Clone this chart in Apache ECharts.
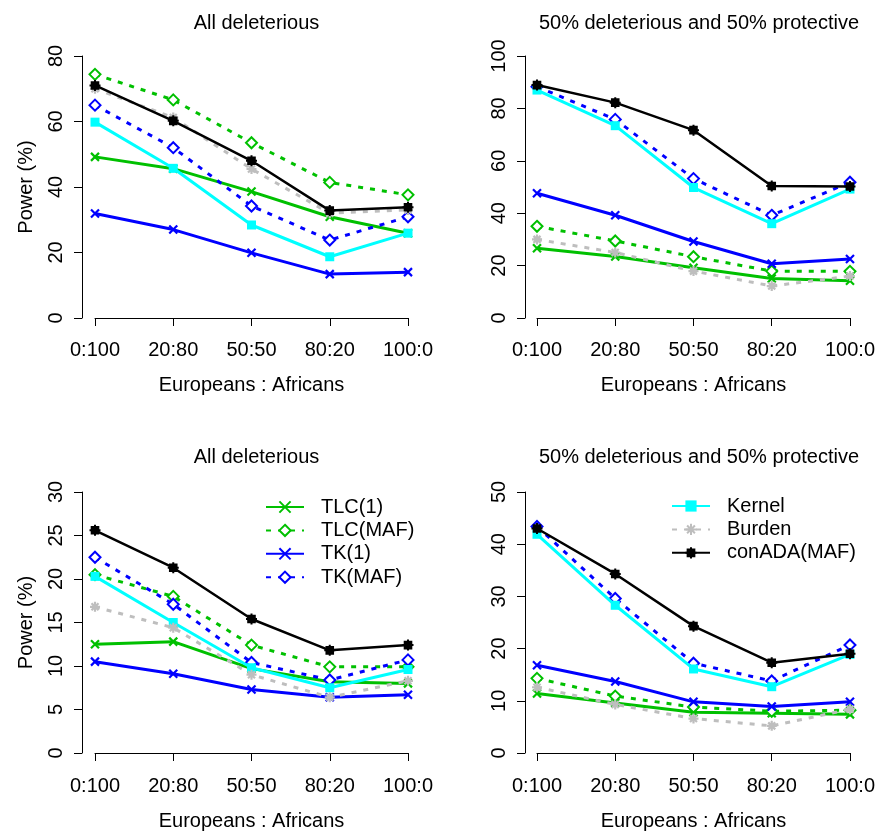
<!DOCTYPE html>
<html>
<head>
<meta charset="utf-8">
<script src="https://cdn.jsdelivr.net/npm/echarts@6/dist/echarts.min.js"></script>
<style>
html,body{margin:0;padding:0;background:#fff;}
#chart{width:878px;height:832px;}
</style>
</head>
<body>
<div id="chart"></div>
<script>
// ---------- data ----------
const categories = ['0:100', '20:80', '50:50', '80:20', '100:0'];
const seriesNames = ['TLC(1)', 'TLC(MAF)', 'TK(1)', 'TK(MAF)', 'Kernel', 'Burden', 'conADA(MAF)'];
const panelTitles = ['All deleterious', '50% deleterious and 50% protective', 'All deleterious', '50% deleterious and 50% protective'];
const yMax = [80, 100, 30, 50];
const yStep = [20, 20, 5, 10];

// Panel A: top-left (All deleterious)
const a_TLC1   = [49.2, 45.6, 38.6, 30.9, 25.9];
const a_TLCMAF = [74.4, 66.6, 53.5, 41.4, 37.6];
const a_TK1    = [31.9, 27.0, 19.9, 13.4, 14.0];
const a_TKMAF  = [65.0, 52.0, 34.2, 23.8, 30.9];
const a_Kernel = [59.8, 45.7, 28.4, 18.7, 25.9];
const a_Burden = [70.0, 61.2, 45.5, 32.0, 33.0];
const a_conADA = [71.0, 60.2, 48.0, 32.8, 33.8];

// Panel B: top-right (50% deleterious and 50% protective)
const b_TLC1   = [26.6, 23.5, 19.2, 15.1, 14.2];
const b_TLCMAF = [35.0, 29.4, 23.4, 17.9, 17.8];
const b_TK1    = [47.6, 39.2, 29.2, 20.7, 22.5];
const b_TKMAF  = [88.3, 75.8, 53.2, 39.2, 51.8];
const b_Kernel = [87.0, 73.4, 49.8, 36.0, 49.2];
const b_Burden = [30.0, 25.0, 17.9, 12.2, 16.0];
const b_conADA = [88.9, 82.2, 71.7, 50.4, 50.2];

// Panel C: bottom-left (All deleterious)
const c_TLC1   = [12.5, 12.8, 9.7, 8.2, 8.0];
const c_TLCMAF = [20.5, 18.0, 12.4, 9.9, 9.9];
const c_TK1    = [10.5, 9.1, 7.3, 6.4, 6.7];
const c_TKMAF  = [22.5, 17.1, 10.4, 8.4, 10.7];
const c_Kernel = [20.3, 15.0, 9.8, 7.5, 9.6];
const c_Burden = [16.8, 14.4, 9.0, 6.4, 8.3];
const c_conADA = [25.6, 21.3, 15.4, 11.8, 12.4];

// Panel D: bottom-right (50% deleterious and 50% protective)
const d_TLC1   = [11.4, 9.6, 7.8, 7.6, 7.4];
const d_TLCMAF = [14.3, 10.9, 8.8, 8.0, 8.2];
const d_TK1    = [16.8, 13.7, 9.8, 8.9, 9.8];
const d_TKMAF  = [43.4, 29.6, 17.2, 13.8, 20.7];
const d_Kernel = [41.9, 28.3, 16.1, 12.7, 18.9];
const d_Burden = [12.6, 9.3, 6.6, 5.2, 8.4];
const d_conADA = [43.0, 34.3, 24.3, 17.3, 19.0];

const panels = [
  [a_TLC1, a_TLCMAF, a_TK1, a_TKMAF, a_Kernel, a_Burden, a_conADA],
  [b_TLC1, b_TLCMAF, b_TK1, b_TKMAF, b_Kernel, b_Burden, b_conADA],
  [c_TLC1, c_TLCMAF, c_TK1, c_TKMAF, c_Kernel, c_Burden, c_conADA],
  [d_TLC1, d_TLCMAF, d_TK1, d_TKMAF, d_Kernel, d_Burden, d_conADA]
];

// ---------- styles ----------
const FONT = '"Liberation Sans", Arial, sans-serif';
const GREEN = '#00C000', BLUE = '#0000FF', CYAN = '#00FFFF', GRAY = '#BEBEBE', BLACK = '#000000';
const X_PATH = 'path://M0,0L10,10M10,0L0,10';
const STAR_PATH = 'path://M5,0L5,10M0,5L10,5M1.5,1.5L8.5,8.5M8.5,1.5L1.5,8.5';
const SQPLUS_PATH = 'path://M2,2L8,2L8,8L2,8Z M5,0L5,10 M0,5L10,5';
const DOT = [5, 7];

const styles = [
  {color: GREEN, symbol: X_PATH, size: 8, dash: 'solid', width: 3, bw: 2.2},
  {color: GREEN, symbol: 'emptyDiamond', size: 11, dash: DOT, width: 3, bw: 2.2},
  {color: BLUE, symbol: X_PATH, size: 8, dash: 'solid', width: 3, bw: 2.2},
  {color: BLUE, symbol: 'emptyDiamond', size: 11, dash: DOT, width: 3, bw: 2.2},
  {color: CYAN, symbol: 'rect', size: 9, dash: 'solid', width: 3, bw: 0},
  {color: GRAY, symbol: STAR_PATH, size: 10, dash: DOT, width: 3, bw: 2.2},
  {color: BLACK, symbol: SQPLUS_PATH, size: 11, dash: 'solid', width: 2.5, bw: 2}
];

const gridPos = [
  {left: 95, top: 56, width: 313, height: 262},
  {left: 537, top: 56, width: 314, height: 262},
  {left: 95, top: 492, width: 313, height: 261},
  {left: 537, top: 492, width: 314, height: 261}
];

const grids = gridPos.map(g => Object.assign({containLabel: false}, g));

const xAxes = gridPos.map((g, i) => ({
  type: 'category',
  gridIndex: i,
  data: categories,
  boundaryGap: false,
  offset: i < 2 ? 10 : 11,
  axisLine: {show: true, lineStyle: {color: '#000', width: 1}},
  axisTick: {show: true, length: 8, alignWithLabel: true, lineStyle: {color: '#000'}},
  axisLabel: {color: '#000', fontFamily: FONT, fontSize: 20, margin: 12, showMinLabel: true, showMaxLabel: true, interval: 0},
  splitLine: {show: false},
  name: 'Europeans : Africans',
  nameLocation: 'middle',
  nameGap: 47,
  nameTextStyle: {color: '#000', fontFamily: FONT, fontSize: 20}
}));

const yAxes = gridPos.map((g, i) => ({
  type: 'value',
  gridIndex: i,
  min: 0,
  max: yMax[i],
  interval: yStep[i],
  offset: i % 2 === 0 ? 13 : 12,
  axisLine: {show: true, lineStyle: {color: '#000', width: 1}},
  axisTick: {show: true, length: 8, lineStyle: {color: '#000'}},
  axisLabel: {color: '#000', fontFamily: FONT, fontSize: 20, rotate: 90, margin: 16, showMinLabel: true, showMaxLabel: true},
  splitLine: {show: false},
  name: i % 2 === 0 ? 'Power (%)' : '',
  nameLocation: 'middle',
  nameRotate: 90,
  nameGap: 46,
  nameTextStyle: {color: '#000', fontFamily: FONT, fontSize: 20}
}));

const series = [];
panels.forEach((vals, p) => {
  vals.forEach((arr, k) => {
    const s = styles[k];
    series.push({
      type: 'line',
      name: seriesNames[k],
      xAxisIndex: p,
      yAxisIndex: p,
      data: arr,
      symbol: s.symbol,
      symbolSize: s.size,
      showSymbol: true,
      showAllSymbol: true,
      animation: false,
      z: 2 + k,
      lineStyle: {color: s.color, width: s.width, type: s.dash},
      itemStyle: {color: s.color, borderColor: s.color, borderWidth: s.bw},
      emphasis: {disabled: true}
    });
  });
});

const titles = gridPos.map((g, i) => ({
  text: panelTitles[i],
  left: g.left + g.width / 2,
  top: i < 2 ? 8 : 442,
  textAlign: 'center',
  textStyle: {color: '#000', fontFamily: FONT, fontSize: 20, fontWeight: 'normal'}
}));

const legendCommon = {
  orient: 'vertical',
  padding: 0,
  itemWidth: 38,
  itemHeight: 14,
  itemGap: 3.4,
  textStyle: {color: '#000', fontFamily: FONT, fontSize: 20, lineHeight: 20, padding: [0, 0, 0, 12]},
  selectedMode: false
};

const option = {
  backgroundColor: '#fff',
  animation: false,
  title: titles,
  grid: grids,
  xAxis: xAxes,
  yAxis: yAxes,
  legend: [
    Object.assign({}, legendCommon, {data: seriesNames.slice(0, 4), left: 265, top: 497}),
    Object.assign({}, legendCommon, {data: seriesNames.slice(4), left: 671, top: 496})
  ],
  series: series
};

const chart = echarts.init(document.getElementById('chart'), null, {renderer: 'canvas'});
chart.setOption(option);
</script>
</body>
</html>
